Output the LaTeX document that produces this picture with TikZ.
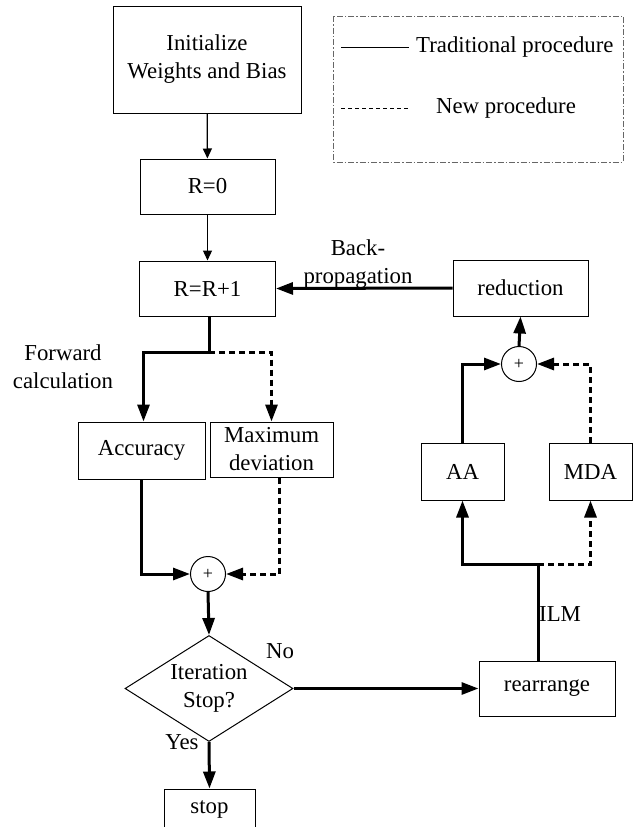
\documentclass[tikz,border=0pt]{standalone}
\usepackage{fontspec}
\setmainfont{Liberation Serif}
\usetikzlibrary{arrows.meta,shapes.geometric}
\begin{document}
\begin{tikzpicture}[x=1pt,y=-1pt,
  every node/.style={font=\fontsize{22.8}{28}\selectfont},
  box/.style={draw,line width=1pt,inner sep=0pt,align=center},
  sumnode/.style={draw,circle,line width=1pt,minimum size=35pt,inner sep=0pt,font=\fontsize{18}{20}\selectfont},
  thinarr/.style={line width=1.3pt,-{Triangle[length=10pt,width=9pt]}},
  thk/.style={line width=3pt},
  thkarr/.style={line width=3pt,-{Triangle[length=17pt,width=12pt]}},
  dsh/.style={line width=3pt,dash pattern=on 6pt off 4pt},
  dsharr/.style={line width=3pt,dash pattern=on 6pt off 4pt,-{Triangle[length=17pt,width=12pt]}},
  lbl/.style={inner sep=1pt,align=center}
]
\clip (0,0) rectangle (635,827);
\fill[white] (0,0) rectangle (635,827);

% legend
\draw[line width=1pt,gray!80!black,dash pattern=on 6pt off 2pt on 1.5pt off 2pt] (333,16) rectangle (623,162);
\coordinate (l1a) at (341,47); \coordinate (l1b) at (409,47);
\coordinate (l2a) at (341,108); \coordinate (l2b) at (409,108);
\draw[line width=1pt] (l1a) -- (l1b);
\draw[line width=1pt,dash pattern=on 4pt off 3pt] (l2a) -- (l2b);
\node[lbl,anchor=west] (legT) at (415,47) {Traditional procedure};
\node[lbl] (legN) at (506,108) {New procedure};

% nodes
\node[box,minimum width=188pt,minimum height=107pt] (init) at (207,59.5) {Initialize\\Weights and Bias};
\node[box,minimum width=135pt,minimum height=55pt] (r0) at (207.5,186.5) {R=0};
\node[box,minimum width=136pt,minimum height=55pt] (rr) at (207.5,288.5) {R=R+1};
\node[box,minimum width=135pt,minimum height=56pt] (red) at (520.5,288) {reduction};
\node[box,minimum width=127pt,minimum height=57pt] (acc) at (141.5,450.5) {Accuracy};
\node[box,minimum width=123pt,minimum height=55pt] (dev) at (271.5,449.5) {Maximum\\deviation};
\node[sumnode] (plusL) at (208,574) {+};
\node[sumnode] (plusR) at (519,364) {+};
\node[box,minimum width=83pt,minimum height=57pt] (AA) at (462.5,471.5) {AA};
\node[box,minimum width=83pt,minimum height=57pt] (MDA) at (590.5,471.5) {MDA};
\node[box,minimum width=136pt,minimum height=55pt] (rear) at (547,688.5) {rearrange};
\node[draw,diamond,line width=1pt,minimum width=168pt,minimum height=106pt,inner sep=0pt] (dia) at (209,688.5) {};
\node[lbl] (diaT) at (dia) {Iteration\\Stop?};
\node[box,minimum width=91pt,minimum height=40pt] (stop) at (209.5,809) {stop};

% labels
\node[lbl] (fwd) at (63,367) {Forward\\calculation};
\node[lbl] (bp) at (358,264) {Back-\\propagation};
\node[lbl] (no) at (280,651) {No};
\node[lbl] (yes) at (182,742) {Yes};

% connectors
\draw[thinarr] (init) -- (r0);
\draw[thinarr] (r0) -- (rr);
\draw[thkarr] (red.west) -- (rr.east);

\coordinate (fsplit) at (209,352);
\draw[thk] (rr.south -| fsplit) -- (fsplit);
\draw[thkarr] (fsplit) -| ([xshift=2pt]acc.north);
\draw[dsharr] (fsplit) -| (dev.north);
\draw[thkarr] (acc.south) |- (plusL.west);
\draw[dsharr] ([xshift=7.5pt]dev.south) |- (plusL.east);
\draw[thkarr] (plusL.south) -- (dia.north);
\draw[thkarr] (dia.east) -- (rear.west);
\draw[thkarr] (dia.south) -- (stop.north);

\coordinate (isplit) at (538,564);
\draw[thk] (rear.north -| isplit) -- (isplit);
\node[lbl,anchor=west] (ilm) at (538,614) {ILM};
\draw[thkarr] (isplit) -| (AA.south);
\draw[dsharr] (isplit) -| (MDA.south);
\draw[thkarr] (AA.north) |- (plusR.west);
\draw[dsharr] (MDA.north) |- (plusR.east);
\draw[thkarr] (plusR.north) -- (red.south);
\end{tikzpicture}
\end{document}
